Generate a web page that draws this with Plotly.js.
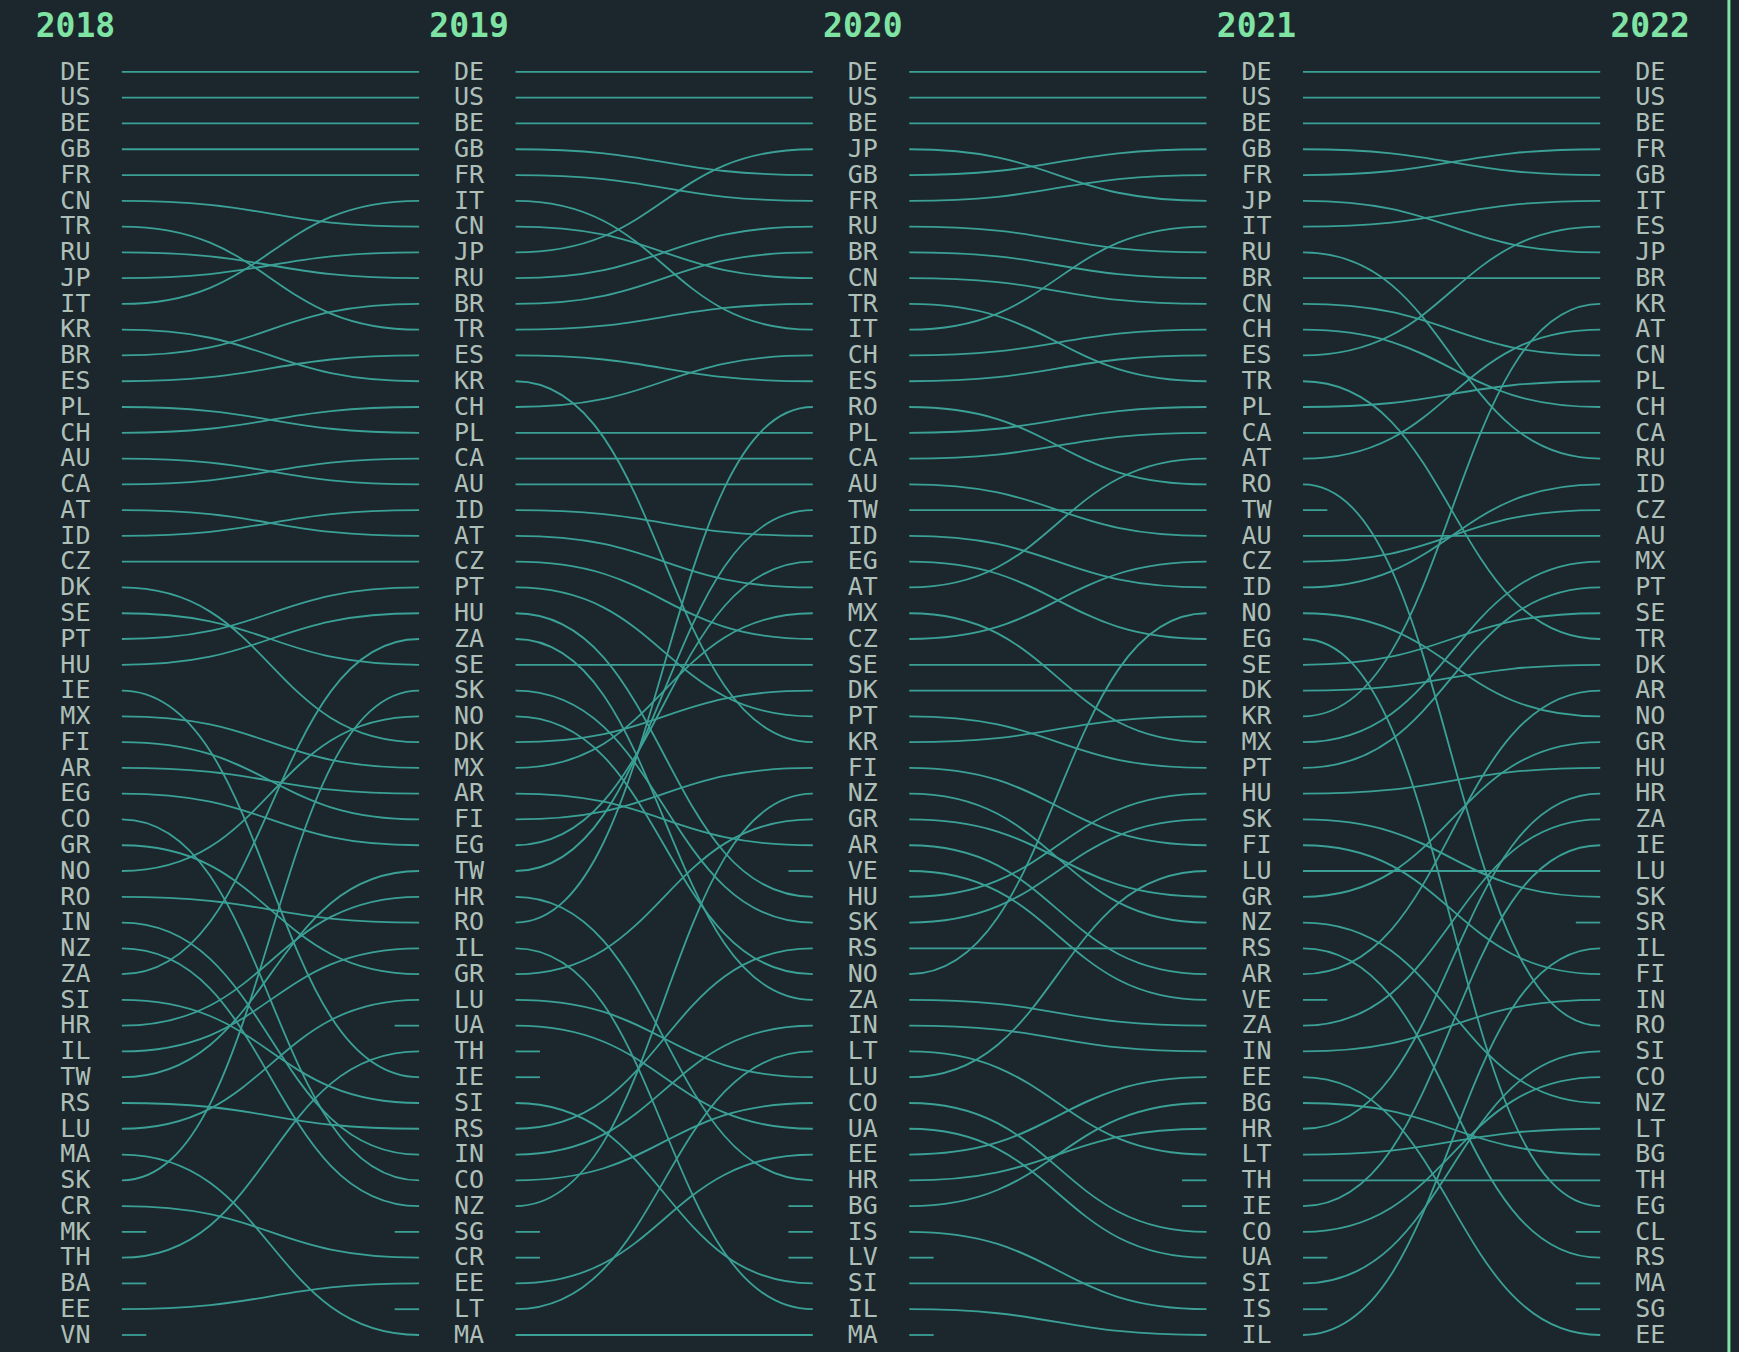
<!DOCTYPE html>
<html>
<head>
<meta charset="utf-8">
<script src="https://cdn.plot.ly/plotly-3.0.1.min.js"></script>
<style>
  html, body { margin: 0; padding: 0; background: #1b272d; }
  #chart { width: 1739px; height: 1352px; }
</style>
</head>
<body>
<div id="chart"></div>
<script>
// ---- Data: ranked country lists per year ----
const years = ['2018', '2019', '2020', '2021', '2022'];

const rank2018 = ['DE','US','BE','GB','FR','CN','TR','RU','JP','IT','KR','BR','ES','PL','CH','AU','CA','AT','ID','CZ',
  'DK','SE','PT','HU','IE','MX','FI','AR','EG','CO','GR','NO','RO','IN','NZ','ZA','SI','HR','IL','TW',
  'RS','LU','MA','SK','CR','MK','TH','BA','EE','VN'];

const rank2019 = ['DE','US','BE','GB','FR','IT','CN','JP','RU','BR','TR','ES','KR','CH','PL','CA','AU','ID','AT','CZ',
  'PT','HU','ZA','SE','SK','NO','DK','MX','AR','FI','EG','TW','HR','RO','IL','GR','LU','UA','TH','IE',
  'SI','RS','IN','CO','NZ','SG','CR','EE','LT','MA'];

const rank2020 = ['DE','US','BE','JP','GB','FR','RU','BR','CN','TR','IT','CH','ES','RO','PL','CA','AU','TW','ID','EG',
  'AT','MX','CZ','SE','DK','PT','KR','FI','NZ','GR','AR','VE','HU','SK','RS','NO','ZA','IN','LT','LU',
  'CO','UA','EE','HR','BG','IS','LV','SI','IL','MA'];

const rank2021 = ['DE','US','BE','GB','FR','JP','IT','RU','BR','CN','CH','ES','TR','PL','CA','AT','RO','TW','AU','CZ',
  'ID','NO','EG','SE','DK','KR','MX','PT','HU','SK','FI','LU','GR','NZ','RS','AR','VE','ZA','IN','EE',
  'BG','HR','LT','TH','IE','CO','UA','SI','IS','IL'];

const rank2022 = ['DE','US','BE','FR','GB','IT','ES','JP','BR','KR','AT','CN','PL','CH','CA','RU','ID','CZ','AU','MX',
  'PT','SE','TR','DK','AR','NO','GR','HU','HR','ZA','IE','LU','SK','SR','IL','FI','IN','RO','SI','CO',
  'NZ','LT','BG','TH','EG','CL','RS','MA','SG','EE'];

const rankLists = [rank2018, rank2019, rank2020, rank2021, rank2022];

// ---- Styling / layout constants ----
const BG = '#1b272d';
const LINK = '#3ba096';
const LABEL = '#aebfb8';
const TITLE = '#7fe3a3';
const GAP_L = 0.118;   // from column centre to start of outgoing links (x units)
const GAP_R = 0.127;   // from end of incoming links to next column centre
const STUB = 0.062;    // length of stubs for countries entering / leaving
const TEXT_DY = 0.06;  // small vertical nudge of labels
const TITLE_Y = -0.66;

const shapes = [];
for (let i = 0; i < rankLists.length - 1; i++) {
  const a = rankLists[i], b = rankLists[i + 1];
  const x0 = i + GAP_L, x1 = i + 1 - GAP_R, xm = (x0 + x1) / 2;
  a.forEach((c, k) => {
    const j = b.indexOf(c);
    const y0 = k + 1;
    if (j >= 0) {
      const y1 = j + 1;
      shapes.push({
        type: 'path', xref: 'x', yref: 'y', layer: 'below',
        path: `M ${x0},${y0} C ${xm},${y0} ${xm},${y1} ${x1},${y1}`,
        line: { color: LINK, width: 1.8 }
      });
    } else {
      shapes.push({
        type: 'line', xref: 'x', yref: 'y', layer: 'below',
        x0: x0, y0: y0, x1: x0 + STUB, y1: y0,
        line: { color: LINK, width: 1.8 }
      });
    }
  });
  b.forEach((c, j) => {
    if (a.indexOf(c) < 0) {
      shapes.push({
        type: 'line', xref: 'x', yref: 'y', layer: 'below',
        x0: x1 - STUB, y0: j + 1, x1: x1, y1: j + 1,
        line: { color: LINK, width: 1.8 }
      });
    }
  });
}
// right-hand border line
shapes.push({
  type: 'line', xref: 'paper', yref: 'paper',
  x0: 0.9942, x1: 0.9942, y0: 0, y1: 1,
  line: { color: TITLE, width: 3 }
});

const traces = [];
rankLists.forEach((lst, i) => {
  traces.push({
    type: 'scatter', mode: 'text',
    x: lst.map(() => i),
    y: lst.map((_, k) => k + 1 + TEXT_DY),
    text: lst,
    textposition: 'middle center',
    textfont: { family: 'DejaVu Sans Mono', size: 25, color: LABEL },
    hoverinfo: 'skip', showlegend: false
  });
});
traces.push({
  type: 'scatter', mode: 'text',
  x: years.map((_, i) => i),
  y: years.map(() => TITLE_Y),
  text: years,
  textposition: 'middle center',
  textfont: { family: 'DejaVu Sans Mono', size: 33, color: TITLE, weight: 'bold' },
  hoverinfo: 'skip', showlegend: false
});

const layout = {
  width: 1739, height: 1352,
  margin: { l: 0, r: 0, t: 0, b: 0 },
  paper_bgcolor: BG, plot_bgcolor: BG,
  showlegend: false,
  xaxis: { range: [-0.1915, 4.2255], visible: false, fixedrange: true },
  yaxis: { range: [50.66, -1.79], visible: false, fixedrange: true },
  shapes: shapes
};

Plotly.newPlot('chart', traces, layout, { displayModeBar: false, staticPlot: true });
</script>
</body>
</html>
